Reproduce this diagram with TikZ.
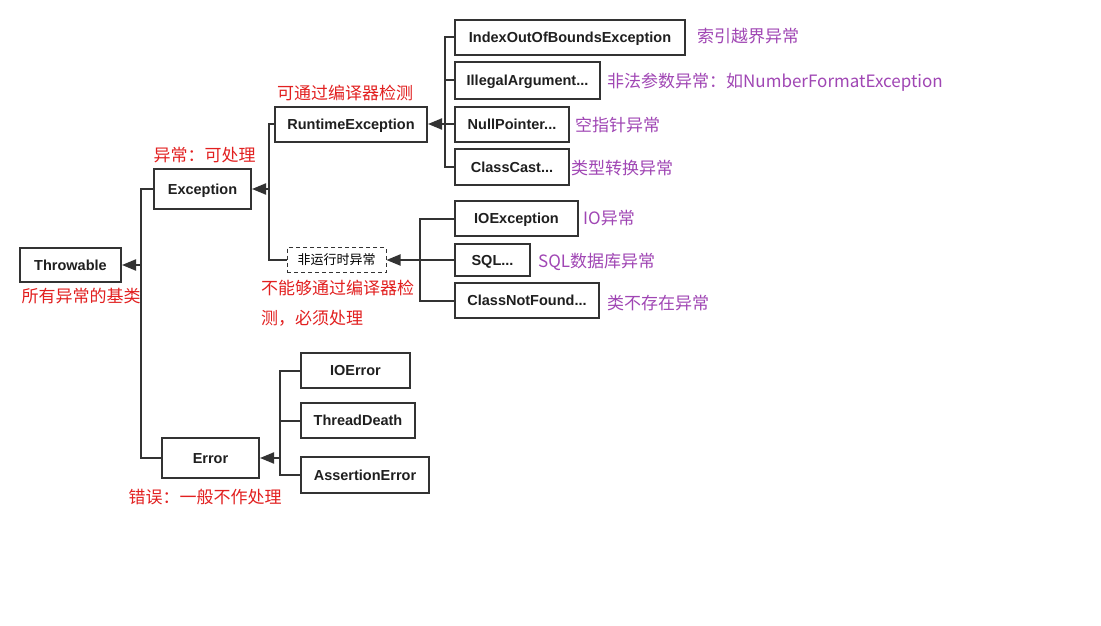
\documentclass[tikz,border=0pt]{standalone}
\usepackage{fontspec}
\setmainfont{Liberation Sans}
\newfontfamily\cjk{Noto Sans CJK SC}
\usetikzlibrary{arrows.meta}
\definecolor{linec}{RGB}{51,51,51}
\definecolor{redc}{RGB}{226,32,32}
\definecolor{purc}{RGB}{160,70,180}
\tikzset{
  box/.style={draw=linec, line width=2pt, fill=white, inner sep=0pt, text=black!88,
    text height=10.5pt, text depth=0pt,
    font=\fontsize{14.5}{16}\selectfont\bfseries},
  dbox/.style={draw=linec, line width=1pt, dashed, dash pattern=on 4pt off 3pt, fill=white, inner sep=0pt,
    text height=10pt, text depth=1pt,
    font=\cjk\fontsize{13}{15}\selectfont},
  conn/.style={draw=linec, line width=2pt},
  arr/.style={draw=linec, line width=2pt, -{Triangle[length=14pt,width=11pt]}},
  rlab/.style={text=redc, inner sep=0pt, font=\cjk\fontsize{17}{19}\selectfont},
  plab/.style={text=purc, inner sep=0pt, anchor=west, font=\cjk\fontsize{17}{19}\selectfont},
}
\begin{document}
\begin{tikzpicture}[x=1pt,y=-1pt]
\useasboundingbox[fill=white] (0,0) rectangle (1101,626);

% boxes
\node[box, minimum width=101pt, minimum height=34pt] (throwable) at (70.5,265) {Throwable};
\node[box, minimum width=97pt, minimum height=40pt] (exception) at (202.5,189) {Exception};
\node[box, minimum width=97pt, minimum height=40pt] (error) at (210.5,458) {Error};
\node[box, minimum width=152pt, minimum height=35pt] (rte) at (351,124) {RuntimeException};
\node[dbox, minimum width=99pt, minimum height=25pt] (nonrt) at (336.5,260) {非运行时异常};
\node[box, minimum width=230pt, minimum height=35pt] (ioob) at (570,37.5) {IndexOutOfBoundsException};
\node[box, minimum width=145pt, minimum height=37pt] (ill) at (527.5,80.5) {IllegalArgument...};
\node[box, minimum width=114pt, minimum height=35pt] (np) at (512,124) {NullPointer...};
\node[box, minimum width=114pt, minimum height=36pt] (cc) at (512,167) {ClassCast...};
\node[box, minimum width=123pt, minimum height=35pt] (ioe) at (516.5,218.5) {IOException};
\node[box, minimum width=75pt, minimum height=32pt] (sql) at (492.5,260) {SQL...};
\node[box, minimum width=144pt, minimum height=35pt] (cnf) at (527,300.5) {ClassNotFound...};
\node[box, minimum width=109pt, minimum height=35pt] (ioerr) at (355.5,370.5) {IOError};
\node[box, minimum width=114pt, minimum height=35pt] (td) at (358,420.5) {ThreadDeath};
\node[box, minimum width=128pt, minimum height=36pt] (ae) at (365,475) {AssertionError};

% junction coordinates
\coordinate (t1) at (141,265);
\coordinate (e1) at (269,189);
\coordinate (r1) at (445,124);
\coordinate (n1) at (420,260);
\coordinate (q1) at (280,458);

% connectors
\draw[conn] (exception.west) -| (t1) |- (error.west);
\draw[arr] (t1) -- (throwable.east);

\draw[conn] (rte.west) -| (e1) |- (nonrt.west);
\draw[arr] (e1) -- (exception.east);

\draw[conn] (ioob.west) -| (r1) |- (cc.west);
\draw[conn] (ill.west) -- (ill.west -| r1);
\draw[conn] (np.west) -- (r1);
\draw[arr] (r1) -- (rte.east);

\draw[conn] (ioe.west) -| (n1) |- (cnf.west);
\draw[conn] (sql.west) -- (n1);
\draw[arr] (n1) -- (nonrt.east);

\draw[conn] (ioerr.west) -| (q1) |- (ae.west);
\draw[conn] (td.west) -- (td.west -| q1);
\draw[arr] (q1) -- (error.east);

% red labels
\node[rlab] (l1) at (345,93) {可通过编译器检测};
\node[rlab] (l2) at (204.5,155) {异常：可处理};
\node[rlab] (l3) at (81,296) {所有异常的基类};
\node[rlab, anchor=west] (l4) at (261,288) {不能够通过编译器检};
\node[rlab, anchor=west] (l5) at (261,318) {测，必须处理};
\node[rlab] (l6) at (205,497) {错误：一般不作处理};

% purple labels
\node[plab] (p1) at (697,36) {索引越界异常};
\node[plab] (p2) at (607,82) {非法参数异常：如NumberFormatException};
\node[plab] (p3) at (575,125) {空指针异常};
\node[plab] (p4) at (571,168) {类型转换异常};
\node[plab] (p5) at (583,218) {IO异常};
\node[plab] (p6) at (538,262) {SQL数据库异常};
\node[plab] (p7) at (607,303) {类不存在异常};
\end{tikzpicture}
\end{document}
